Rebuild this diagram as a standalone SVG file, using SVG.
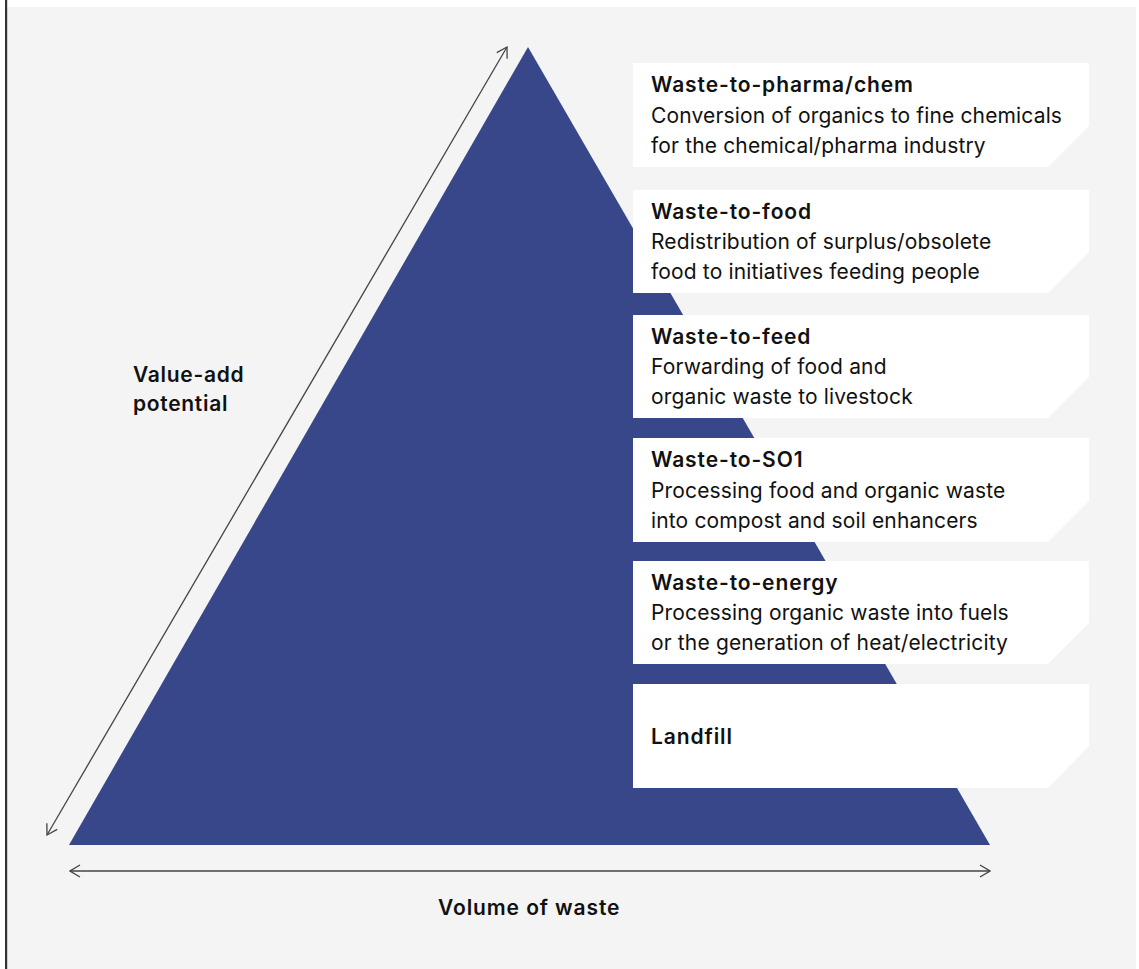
<svg xmlns="http://www.w3.org/2000/svg" width="1139" height="969" viewBox="0 0 1139 969">
<defs>
<marker id="arr" viewBox="0 0 12 14" refX="11" refY="7" markerWidth="12" markerHeight="14" markerUnits="userSpaceOnUse" orient="auto-start-reverse">
<path d="M1,1 L11,7 L1,13" fill="none" stroke="#444" stroke-width="1.3"/>
</marker>
</defs>
<style>
.box{fill:#ffffff}
.t{font-family:Inter,"Liberation Sans",Arial,sans-serif;font-size:21px;font-weight:600;fill:#111;letter-spacing:0.9px}
.b{font-family:Inter,"Liberation Sans",Arial,sans-serif;font-size:21px;font-weight:400;fill:#111;letter-spacing:0.15px}
.ax{stroke:#444;stroke-width:1.3;fill:none}
</style>
<rect x="0" y="0" width="1139" height="969" fill="#ffffff"/>
<rect x="7" y="7" width="1129" height="962" fill="#f4f4f4"/>
<rect x="5" y="0" width="2.2" height="969" fill="#333"/>
<g id="pyramid">
<polygon points="69,845 528,47 990,845" fill="#374789"/>
</g>
<g id="connectors">
<line class="ax" x1="47" y1="835" x2="507" y2="47" marker-start="url(#arr)" marker-end="url(#arr)"/>
<line class="ax" x1="70" y1="871" x2="990" y2="871" marker-start="url(#arr)" marker-end="url(#arr)"/>
</g>
<g id="axis-y">
<text class="t" x="133" y="382" style="letter-spacing:0.7px">Value-add</text>
<text class="t" x="133" y="411" style="letter-spacing:0.7px">potential</text>
</g>
<g id="axis-x">
<text class="t" x="438" y="915">Volume of waste</text>
</g>
<g id="box-pharma">
<polygon class="box" points="633,63 1089,63 1089,126 1048,167 633,167"/>
<text class="t" x="651" y="92">Waste-to-pharma/chem</text>
<text class="b" x="651" y="123">Conversion of organics to fine chemicals</text>
<text class="b" x="651" y="153">for the chemical/pharma industry</text>
</g>
<g id="box-food">
<polygon class="box" points="633,190 1089,190 1089,252 1048,293 633,293"/>
<text class="t" x="651" y="219">Waste-to-food</text>
<text class="b" x="651" y="249">Redistribution of surplus/obsolete</text>
<text class="b" x="651" y="279">food to initiatives feeding people</text>
</g>
<g id="box-feed">
<polygon class="box" points="633,315 1089,315 1089,377 1048,418 633,418"/>
<text class="t" x="651" y="344">Waste-to-feed</text>
<text class="b" x="651" y="374">Forwarding of food and</text>
<text class="b" x="651" y="404">organic waste to livestock</text>
</g>
<g id="box-so1">
<polygon class="box" points="633,438 1089,438 1089,501 1048,542 633,542"/>
<text class="t" x="651" y="467">Waste-to-SO1</text>
<text class="b" x="651" y="498">Processing food and organic waste</text>
<text class="b" x="651" y="528">into compost and soil enhancers</text>
</g>
<g id="box-energy">
<polygon class="box" points="633,561 1089,561 1089,623 1048,664 633,664"/>
<text class="t" x="651" y="590">Waste-to-energy</text>
<text class="b" x="651" y="620">Processing organic waste into fuels</text>
<text class="b" x="651" y="650">or the generation of heat/electricity</text>
</g>
<g id="box-landfill">
<polygon class="box" points="633,684 1089,684 1089,746 1048,788 633,788"/>
<text class="t" x="651" y="744">Landfill</text>
</g>
</svg>
